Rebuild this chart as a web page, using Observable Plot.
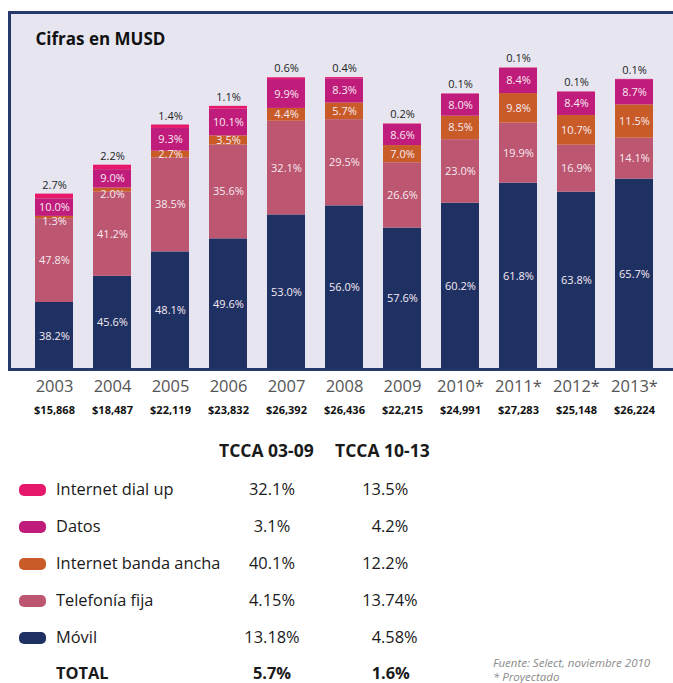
<!DOCTYPE html>
<html><head><meta charset="utf-8">
<script src="https://cdn.jsdelivr.net/npm/d3@7"></script>
<script src="https://cdn.jsdelivr.net/npm/@observablehq/plot@0.6"></script>
<style>
body{margin:0;background:#fff;font-family:"Open Sans",sans-serif;}
#wrap{position:relative;width:673px;height:683px;overflow:hidden;}
#chart svg{display:block;overflow:hidden;}
.t{position:absolute;white-space:nowrap;line-height:1;color:#1a1a1a;}
.sw{position:absolute;width:27px;height:12px;border-radius:5px;}
</style></head><body><div id="wrap"><div id="chart"></div><div id="table"></div></div>
<script>
const titleText = "Cifras en MUSD";
const years = ["2003","2004","2005","2006","2007","2008","2009","2010*","2011*","2012*","2013*"];
const totals = [15868, 18487, 22119, 23832, 26392, 26436, 22215, 24991, 27283, 25148, 26224];
const series = ["Móvil","Telefonía fija","Internet banda ancha","Datos","Internet dial up"];
const movil  = [38.2, 45.6, 48.1, 49.6, 53.0, 56.0, 57.6, 60.2, 61.8, 63.8, 65.7];
const fija   = [47.8, 41.2, 38.5, 35.6, 32.1, 29.5, 26.6, 23.0, 19.9, 16.9, 14.1];
const banda  = [1.3, 2.0, 2.7, 3.5, 4.4, 5.7, 7.0, 8.5, 9.8, 10.7, 11.5];
const datos  = [10.0, 9.0, 9.3, 10.1, 9.9, 8.3, 8.6, 8.0, 8.4, 8.4, 8.7];
const dialup = [2.7, 2.2, 1.4, 1.1, 0.6, 0.4, 0.2, 0.1, 0.1, 0.1, 0.1];
const colors = ["#1f3163", "#bd5670", "#c95b28", "#c01c7b", "#e6186b"];

const legendOrder = ["Internet dial up","Datos","Internet banda ancha","Telefonía fija","Móvil"];
const tccaHeaders = ["TCCA 03-09","TCCA 10-13"];
const tcca0309 = ["32.1%","3.1%","40.1%","4.15%","13.18%"];
const tcca1013 = ["13.5%","4.2%","12.2%","13.74%","4.58%"];
const totalLabel = "TOTAL";
const totalRow = ["5.7%","1.6%"];
const notes = ["Fuente: Select, noviembre 2010","* Proyectado"];

const shares = [movil, fija, banda, datos, dialup];
const rows = [];
years.forEach((yr, i) => series.forEach((s, j) => rows.push({year: yr, series: s, pct: shares[j][i], value: totals[i] * shares[j][i] / 100})));
const fmtPct = d => d.toFixed(1) + "%";
const isTop = d => d.series === "Internet dial up";
const isSmall = d => d.series === "Internet banda ancha" && d.pct < 2.5;
const fmtTotal = d => "$" + d3.format(",")(totals[years.indexOf(d)]);

const chart = Plot.plot({
  width: 673, height: 420,
  marginLeft: 15, marginRight: 0, marginTop: 12, marginBottom: 51,
  style: {background: "transparent", fontFamily: "Open Sans, sans-serif"},
  x: {domain: years, paddingInner: 0.345, paddingOuter: 0.345, align: 0.5, round: false},
  y: {domain: [0, 32300], axis: null},
  color: {domain: series, range: colors},
  marks: [
    Plot.frame({fill: "#e7e6f0", stroke: "#27386b", strokeWidth: 3, insetLeft: -6, insetRight: -6}),
    Plot.text([titleText], {frameAnchor: "top-left", dx: 20, dy: 20, fontSize: 17, fontWeight: "bold", fill: "#111"}),
    Plot.barY(rows, Plot.stackY({x: "year", y: "value", fill: "series"})),
    Plot.text(rows, Plot.stackY({x: "year", y: "value", text: d => (isTop(d) || isSmall(d)) ? null : fmtPct(d.pct), fill: "#f6eaf1", fontSize: 11})),
    Plot.text(rows, Plot.stackY({x: "year", y: "value", text: d => isSmall(d) ? fmtPct(d.pct) : null, fill: "#f6eaf1", fontSize: 11, dy: 4})),
    Plot.text(rows, Plot.stackY2({x: "year", y: "value", text: d => isTop(d) ? fmtPct(d.pct) : null, fill: "#222", fontSize: 11, dy: -9})),
    Plot.axisX({tickSize: 0, tickPadding: 11, fontSize: 16.5, fill: "#555", label: null}),
    Plot.axisX({tickSize: 0, tickPadding: 37, fontSize: 11, fontWeight: "bold", fill: "#111", label: null, tickFormat: fmtTotal})
  ]
});
document.getElementById("chart").append(chart);

const tbl = document.getElementById("table");
function put(txt, x, y, style) {
  const e = document.createElement("div");
  e.className = "t"; e.textContent = txt;
  e.style.left = x + "px"; e.style.top = y + "px";
  Object.assign(e.style, style || {});
  tbl.append(e); return e;
}
const rowY = [490, 527, 564, 601, 638, 674];
const fs = "16.4px";
put(tccaHeaders[0], 219, 451 - 9, {fontWeight: "bold", fontSize: "17.5px"});
put(tccaHeaders[1], 335, 451 - 9, {fontWeight: "bold", fontSize: "17.5px"});
legendOrder.forEach((name, i) => {
  const sw = document.createElement("div");
  sw.className = "sw"; sw.style.left = "19px"; sw.style.top = (rowY[i] - 6) + "px";
  sw.style.background = colors[series.indexOf(name)];
  tbl.append(sw);
  put(name, 56, rowY[i] - 9, {fontSize: fs});
  put(tcca0309[i], 222, rowY[i] - 9, {fontSize: fs, width: "100px", textAlign: "center"});
  const [a, b] = tcca1013[i].split(".");
  put(a, 281, rowY[i] - 9, {fontSize: fs, width: "100px", textAlign: "right"});
  put("." + b, 381, rowY[i] - 9, {fontSize: fs});
});
put(totalLabel, 56, rowY[5] - 9, {fontSize: fs, fontWeight: "bold"});
put(totalRow[0], 222, rowY[5] - 9, {fontSize: fs, fontWeight: "bold", width: "100px", textAlign: "center"});
{
  const [a, b] = totalRow[1].split(".");
  put(a, 281, rowY[5] - 9, {fontSize: fs, fontWeight: "bold", width: "100px", textAlign: "right"});
  put("." + b, 381, rowY[5] - 9, {fontSize: fs, fontWeight: "bold"});
}
put(notes.join("\n"), 493, 656, {fontSize: "11.5px", fontStyle: "italic", color: "#8a8a8a", whiteSpace: "pre", lineHeight: "13.5px"});
</script></body></html>
